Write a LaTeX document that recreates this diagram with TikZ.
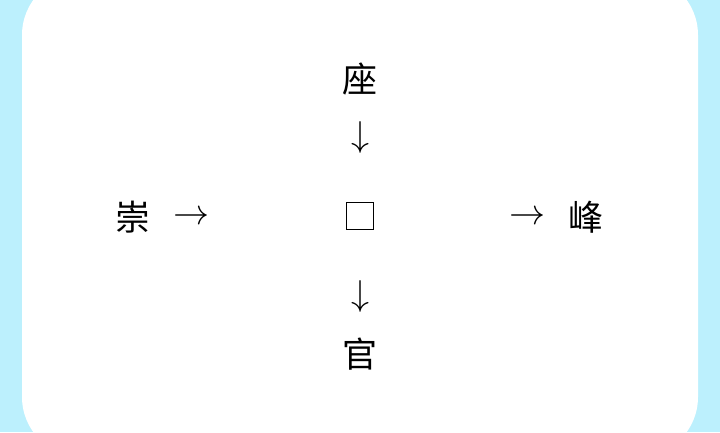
\documentclass[tikz,border=0pt]{standalone}
\usepackage{graphicx}
\usepackage{fontspec}
\newfontfamily\cjk{Noto Sans CJK SC}
\definecolor{bgcyan}{RGB}{188,240,253}
\newcommand{\bigglyph}[1]{\scalebox{3.6}{$#1$}}
\tikzset{
  hanzi/.style={inner sep=0pt, font=\cjk\fontsize{35}{40}\selectfont},
  arrowglyph/.style={inner sep=0pt},
  blank/.style={draw, line width=1.5pt, minimum size=27pt, inner sep=0pt}
}
\begin{document}
\begin{tikzpicture}[x=1pt,y=-1pt]
\useasboundingbox (0,0) rectangle (720,432);
\fill[bgcyan] (0,0) rectangle (720,432);
\fill[white, rounded corners=60pt] (22,-25) rectangle (698,457);
\node[hanzi] (chong) at (133,217) {崇};
\node[arrowglyph] (ra1) at (191,218) {\bigglyph{\rightarrow}};
\node[blank] (box) at (360,216) {};
\node[arrowglyph] (ra2) at (527,218) {\bigglyph{\rightarrow}};
\node[hanzi] (feng) at (586,217) {峰};
\node[hanzi] (zuo) at (360,79) {座};
\node[arrowglyph] (da1) at (360,137) {\bigglyph{\downarrow}};
\node[arrowglyph] (da2) at (360,296) {\bigglyph{\downarrow}};
\node[hanzi] (guan) at (360,354) {官};
\end{tikzpicture}
\end{document}
